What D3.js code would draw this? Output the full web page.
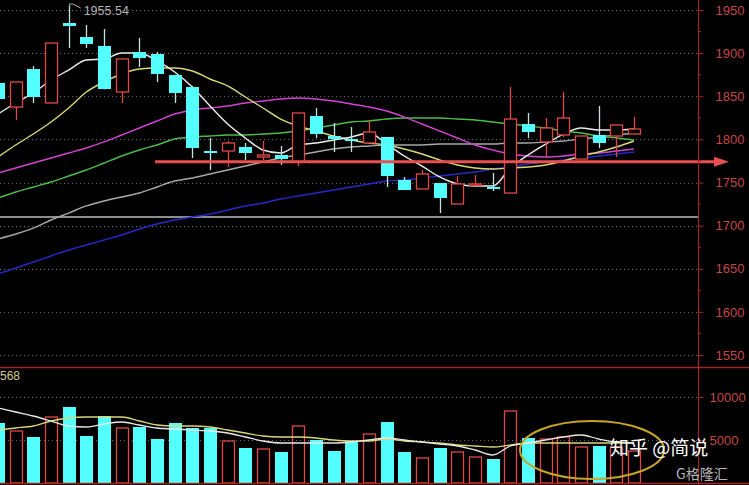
<!DOCTYPE html>
<html><head><meta charset="utf-8">
<script src="https://cdn.jsdelivr.net/npm/d3@7"></script>
<style>html,body{margin:0;padding:0;background:#000;overflow:hidden}svg{display:block}</style>
</head><body>
<script>
// ---- data ----
const opens  = [1865.4,1837.5,1881.6,1842.2,1934.9,1918.7,1908.3,1854.9,1901.3,1899.0,1874.6,1860.7,1786.5,1786.5,1791.2,1779.6,1781.9,1773.8,1827.1,1803.9,1800.4,1795.8,1802.8,1752.9,1742.5,1749.4,1725.1,1747.1,1744.8,1737.8,1817.8,1797.0,1805.1,1777.2,1805.1,1803.9,1806.2];
const closes = [1846.8,1866.5,1849.1,1911.7,1931.4,1910.6,1858.4,1893.2,1894.3,1875.8,1853.8,1790.0,1784.2,1795.8,1784.2,1781.9,1777.2,1830.6,1806.2,1800.4,1798.1,1808.6,1757.5,1741.3,1759.9,1732.0,1748.3,1748.3,1742.5,1823.6,1808.6,1813.2,1824.8,1803.9,1795.8,1816.7,1812.0];
const highs  = [1868.0,1866.5,1885.1,1912.0,1955.54,1932.6,1928.0,1893.2,1917.5,1901.3,1875.0,1862.0,1801.6,1798.1,1795.8,1798.1,1792.3,1830.6,1836.4,1819.0,1814.3,1821.3,1802.8,1756.4,1764.5,1749.4,1757.5,1758.7,1761.0,1860.7,1830.6,1824.8,1854.9,1803.9,1838.7,1816.7,1826.0];
const lows   = [1844.0,1822.5,1842.2,1842.0,1905.9,1905.9,1858.0,1842.2,1883.9,1866.5,1842.2,1778.4,1764.5,1768.0,1776.1,1776.1,1770.3,1769.1,1801.6,1785.4,1785.4,1795.8,1744.8,1741.3,1742.5,1714.6,1725.1,1745.9,1740.1,1737.8,1801.6,1779.6,1802.8,1777.2,1790.0,1779.6,1806.2];
const volumes = [6977,6047,5349,7674,8837,5465,7791,6395,6512,5116,6977,6395,6395,4884,4070,3953,3605,6628,5000,3721,4884,5698,7093,3605,2907,4070,3605,3023,2791,8372,5233,5116,5349,4186,4302,4186,3721];

const ma5   = [1829.4,1842.2,1853.8,1868.8,1880.4,1892.0,1893.2,1900.1,1900.1,1890.9,1878.1,1860.7,1838.7,1817.8,1801.6,1787.7,1784.2,1793.5,1795.8,1799.3,1802.8,1807.4,1794.6,1780.7,1769.1,1756.4,1748.3,1745.9,1745.9,1766.8,1781.9,1794.6,1806.2,1813.2,1810.9,1810.9,1812.0];
const ma10  = [1779.6,1793.5,1806.2,1820.1,1836.4,1854.9,1866.5,1875.8,1881.6,1882.8,1882.8,1879.3,1870.0,1861.9,1849.1,1836.4,1823.6,1815.5,1809.7,1803.9,1799.3,1795.8,1793.5,1788.8,1783.0,1776.1,1770.3,1766.8,1765.7,1766.8,1768.0,1770.3,1774.9,1780.7,1785.4,1791.2,1798.1];
const ma20  = [1761.0,1766.8,1772.6,1778.4,1784.2,1790.0,1797.0,1805.1,1813.2,1821.3,1829.4,1834.1,1836.4,1838.7,1842.2,1844.5,1846.8,1848.0,1846.8,1844.5,1841.0,1837.5,1832.9,1825.9,1817.8,1809.7,1801.6,1793.5,1787.7,1783.0,1780.7,1779.6,1780.7,1783.0,1784.2,1786.5,1788.8];
const ma30  = [1732.0,1739.0,1744.8,1750.6,1757.5,1764.5,1772.6,1780.7,1787.7,1793.5,1800.4,1802.8,1803.9,1805.1,1805.1,1806.2,1807.4,1809.7,1813.2,1816.7,1820.1,1821.3,1823.6,1824.8,1824.8,1824.8,1823.6,1822.5,1820.1,1817.8,1815.5,1813.2,1809.7,1807.4,1803.9,1801.6,1799.3];
const ma60  = [1684.5,1690.3,1697.2,1706.5,1714.6,1722.8,1728.6,1733.2,1737.8,1744.8,1751.7,1755.2,1759.9,1764.5,1769.1,1773.8,1778.4,1781.9,1785.4,1788.8,1791.2,1792.3,1793.5,1793.5,1793.5,1794.6,1794.6,1794.6,1794.6,1795.8,1795.8,1797.0,1798.1,1800.4,1802.8,1805.1,1807.4];
const ma120 = [1643.9,1650.9,1657.8,1664.8,1671.7,1677.5,1683.3,1689.1,1696.1,1701.9,1706.5,1710.0,1713.5,1718.1,1722.8,1726.2,1730.9,1734.4,1737.8,1741.3,1744.8,1748.3,1751.7,1752.9,1755.2,1757.5,1759.9,1762.2,1765.7,1768.0,1771.5,1773.8,1776.1,1778.4,1780.7,1783.0,1785.4];
const volMa5  = [8721,8256,7791,7209,6628,6512,6860,7093,6744,6395,6279,6163,6047,5814,5349,4884,4651,4651,4651,4651,4767,5000,5233,5000,4767,4535,4302,3837,3256,4302,4651,5000,5349,5581,5116,4767,4651];
const volMa10 = [6163,6395,6628,7209,7558,7674,7674,7674,7209,6744,6628,6628,6512,6163,5814,5465,5349,5349,5233,5000,4884,4884,5116,4884,4767,4651,4419,4302,4186,4419,4651,4651,4651,4651,4651,4651,4651];

const priceTicks = [1550,1600,1650,1700,1750,1800,1850,1900,1950];
const volTicks = [5000,10000];
const highLabel = "1955.54";
const volLabel = "568";
const supportLevel = 1774;
const baseLevel = 1710;

// ---- drawing ----
const W = 749, H = 485;
const svg = d3.select("body").append("svg").attr("width", W).attr("height", H).style("background", "#000");
const x = d3.scaleLinear().domain([0, 36]).range([-2, 634]);
const y = d3.scaleLinear().domain([1550, 1950]).range([355, 10]);
const yv = d3.scaleLinear().domain([0, 10000]).range([483, 397]);
const axisX = 698;
const RED = "#e04848", CYAN = "#54ffff", AXIS = "#a52525", LBL = "#c44848";
const idx = d3.range(opens.length);

// grid
svg.append("g").selectAll("line").data(priceTicks).join("line")
  .attr("x1", 0).attr("x2", axisX).attr("y1", d => Math.round(y(d)) + 0.5).attr("y2", d => Math.round(y(d)) + 0.5)
  .attr("stroke", "#6a6a6a").attr("stroke-width", 1).attr("stroke-dasharray", "1,3");
svg.append("g").selectAll("line").data(volTicks).join("line")
  .attr("x1", 0).attr("x2", axisX).attr("y1", d => Math.round(yv(d)) + 0.5).attr("y2", d => Math.round(yv(d)) + 0.5)
  .attr("stroke", "#6a6a6a").attr("stroke-width", 1).attr("stroke-dasharray", "1,3");

// base gray line
svg.append("line").attr("x1", 0).attr("x2", axisX).attr("y1", y(baseLevel)).attr("y2", y(baseLevel))
  .attr("stroke", "#8c8c8c").attr("stroke-width", 2);

// moving averages
const line = arr => d3.line().x((d, i) => x(i)).y(d => y(d)).curve(d3.curveMonotoneX)(arr);
const maDefs = [[ma120, "#2828c8"], [ma60, "#a8a8a8"], [ma30, "#4cbc4c"], [ma20, "#d044d0"], [ma10, "#d8d878"], [ma5, "#ececec"]];
maDefs.forEach(([arr, c]) => svg.append("path").attr("d", line(arr)).attr("fill", "none").attr("stroke", c).attr("stroke-width", 1.4));

// candles
const bw = 12;
const cg = svg.append("g");
idx.forEach(i => {
  const up = closes[i] >= opens[i];
  const top = y(Math.max(opens[i], closes[i])), bot = y(Math.min(opens[i], closes[i]));
  const cx = Math.round(x(i)) + 0.5;
  const wc = up ? RED : "#c8e0e0";
  cg.append("line").attr("x1", cx).attr("x2", cx).attr("y1", y(highs[i])).attr("y2", top).attr("stroke", wc).attr("stroke-width", 1.3);
  cg.append("line").attr("x1", cx).attr("x2", cx).attr("y1", bot).attr("y2", y(lows[i])).attr("stroke", wc).attr("stroke-width", 1.3);
  const h = Math.max(bot - top, 1.5);
  if (up) {
    cg.append("rect").attr("x", cx - bw / 2).attr("y", top).attr("width", bw).attr("height", h)
      .attr("fill", "#000").attr("stroke", RED).attr("stroke-width", 1.3);
  } else {
    cg.append("rect").attr("x", cx - bw / 2 - 0.5).attr("y", top).attr("width", bw + 1).attr("height", h).attr("fill", CYAN);
  }
});

// high label
const hx = x(4);
svg.append("polyline").attr("points", `${hx},4 ${hx + 4},4 ${hx + 12},8`).attr("fill", "none").attr("stroke", "#b0b0b0").attr("stroke-width", 1);
svg.append("text").attr("x", hx + 15).attr("y", 15).text(highLabel)
  .attr("fill", "#b4b4b4").attr("font-family", "Liberation Sans, Arial, sans-serif").attr("font-size", 12.5);

// support arrow
const sy = y(supportLevel);
svg.append("line").attr("x1", 155).attr("x2", 716).attr("y1", sy).attr("y2", sy).attr("stroke", "#e85050").attr("stroke-width", 3);
svg.append("path").attr("d", `M714,${sy - 5}L729,${sy}L714,${sy + 5}Z`).attr("fill", "#e85050");

// volume bars
const vg = svg.append("g");
idx.forEach(i => {
  const up = closes[i] >= opens[i];
  const cx = Math.round(x(i)) + 0.5;
  const t = yv(volumes[i]);
  if (up) vg.append("rect").attr("x", cx - bw / 2).attr("y", t).attr("width", bw).attr("height", 483 - t)
    .attr("fill", "none").attr("stroke", RED).attr("stroke-width", 1.3);
  else vg.append("rect").attr("x", cx - bw / 2 - 0.5).attr("y", t).attr("width", bw + 1).attr("height", 483 - t).attr("fill", CYAN);
});
const vline = arr => d3.line().x((d, i) => x(i)).y(d => yv(d)).curve(d3.curveMonotoneX)(arr);
svg.append("path").attr("d", vline(volMa10)).attr("fill", "none").attr("stroke", "#d8d878").attr("stroke-width", 1.3);
svg.append("path").attr("d", vline(volMa5)).attr("fill", "none").attr("stroke", "#e8e8e8").attr("stroke-width", 1.3);

// panel frames
svg.append("line").attr("x1", 0).attr("x2", W).attr("y1", 367.5).attr("y2", 367.5).attr("stroke", AXIS).attr("stroke-width", 1.5);
svg.append("line").attr("x1", 0).attr("x2", W).attr("y1", 483.5).attr("y2", 483.5).attr("stroke", AXIS).attr("stroke-width", 1.5);
svg.append("line").attr("x1", axisX + 0.5).attr("x2", axisX + 0.5).attr("y1", 0).attr("y2", H).attr("stroke", AXIS).attr("stroke-width", 1.2);

// price axis
const pAxis = d3.axisRight(y).tickValues(priceTicks).tickSize(5).tickPadding(12).tickFormat(d3.format("d"));
const pg = svg.append("g").attr("transform", `translate(${axisX + 0.5},0)`).call(pAxis);
pg.select(".domain").remove();
pg.selectAll("line").attr("stroke", AXIS);
pg.selectAll("text").attr("fill", LBL).attr("font-family", "Liberation Sans, Arial, sans-serif").attr("font-size", 13);
const minor = d3.range(1575, 1950, 50);
svg.append("g").selectAll("line").data(minor).join("line")
  .attr("x1", axisX).attr("x2", axisX + 3).attr("y1", d => y(d)).attr("y2", d => y(d)).attr("stroke", AXIS);

// volume axis
const vAxis = d3.axisRight(yv).tickValues(volTicks).tickSize(5).tickPadding(6).tickFormat(d3.format("d"));
const vgAx = svg.append("g").attr("transform", `translate(${axisX + 0.5},0)`).call(vAxis);
vgAx.select(".domain").remove();
vgAx.selectAll("line").attr("stroke", AXIS);
vgAx.selectAll("text").attr("fill", LBL).attr("font-family", "Liberation Sans, Arial, sans-serif").attr("font-size", 13);

svg.append("text").attr("x", 0).attr("y", 380).text(volLabel)
  .attr("fill", "#d2cc94").attr("font-family", "Liberation Sans, Arial, sans-serif").attr("font-size", 12);

// annotation ellipse & watermark
svg.append("ellipse").attr("cx", 592).attr("cy", 450).attr("rx", 72).attr("ry", 29)
  .attr("fill", "none").attr("stroke", "#c8a428").attr("stroke-width", 2);
svg.append("text").attr("x", 610).attr("y", 455).text("知乎 @简说")
  .attr("fill", "#ffffff").attr("font-family", "Noto Sans CJK SC").attr("font-size", 19);
svg.append("text").attr("x", 676).attr("y", 479).text("G格隆汇")
  .attr("fill", "#d8d8d8").attr("fill-opacity", 0.85).attr("font-family", "Noto Sans CJK SC").attr("font-size", 14);
</script>
</body></html>
